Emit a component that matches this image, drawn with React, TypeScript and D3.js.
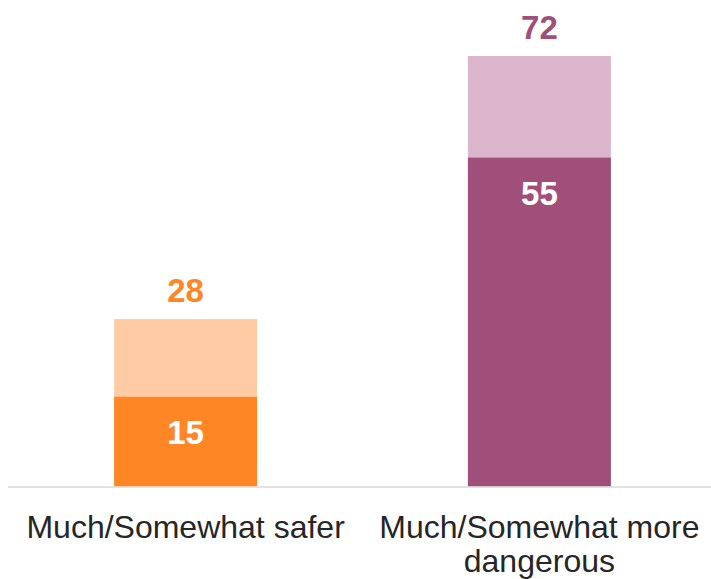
import React from "react";
import * as d3 from "d3";

const categories: string[][] = [["Much/Somewhat safer"], ["Much/Somewhat more", "dangerous"]];
const categoryKeys = ["safer", "dangerous"];
const muchValues = [15, 55];
const totalValues = [28, 72];
const darkColors = ["#FF8624", "#A04F7A"];
const lightColors = ["#FFCBA4", "#DBB5CB"];

const W = 711;
const H = 579;
const FONT = "'Liberation Sans', Arial, Helvetica, sans-serif";

export default function App() {
  const x = d3
    .scaleBand<string>()
    .domain(categoryKeys)
    .range([8, 717])
    .paddingInner(0.596)
    .paddingOuter(0.3);
  const y = d3.scaleLinear().domain([0, 72]).range([486.5, 56]);
  const bw = x.bandwidth();

  return (
    <svg
      width={W}
      height={H}
      style={{ position: "absolute", left: 0, top: 0, background: "#fff" }}
      fontFamily={FONT}
    >
      {categoryKeys.map((k, i) => {
        const x0 = x(k)!;
        const cx = x0 + bw / 2;
        return (
          <g key={k}>
            <rect x={x0} y={y(totalValues[i])} width={bw} height={y(0) - y(totalValues[i])} fill={lightColors[i]} />
            <rect x={x0} y={y(muchValues[i])} width={bw} height={y(0) - y(muchValues[i])} fill={darkColors[i]} />
            <text x={cx} y={y(totalValues[i]) - 17.5} textAnchor="middle" fontSize={33} fontWeight="bold" fill={darkColors[i]}>
              {totalValues[i]}
            </text>
            <text x={cx} y={y(muchValues[i]) + 47} textAnchor="middle" fontSize={33} fontWeight="bold" fill="#ffffff">
              {muchValues[i]}
            </text>
            {categories[i].map((line, j) => (
              <text key={j} x={cx} y={538 + j * 34} textAnchor="middle" fontSize={32} fill="#262626">
                {line}
              </text>
            ))}
          </g>
        );
      })}
      <line x1={8} x2={711} y1={y(0) + 0.5} y2={y(0) + 0.5} stroke="#D9D9D9" strokeWidth={1.5} />
    </svg>
  );
}
